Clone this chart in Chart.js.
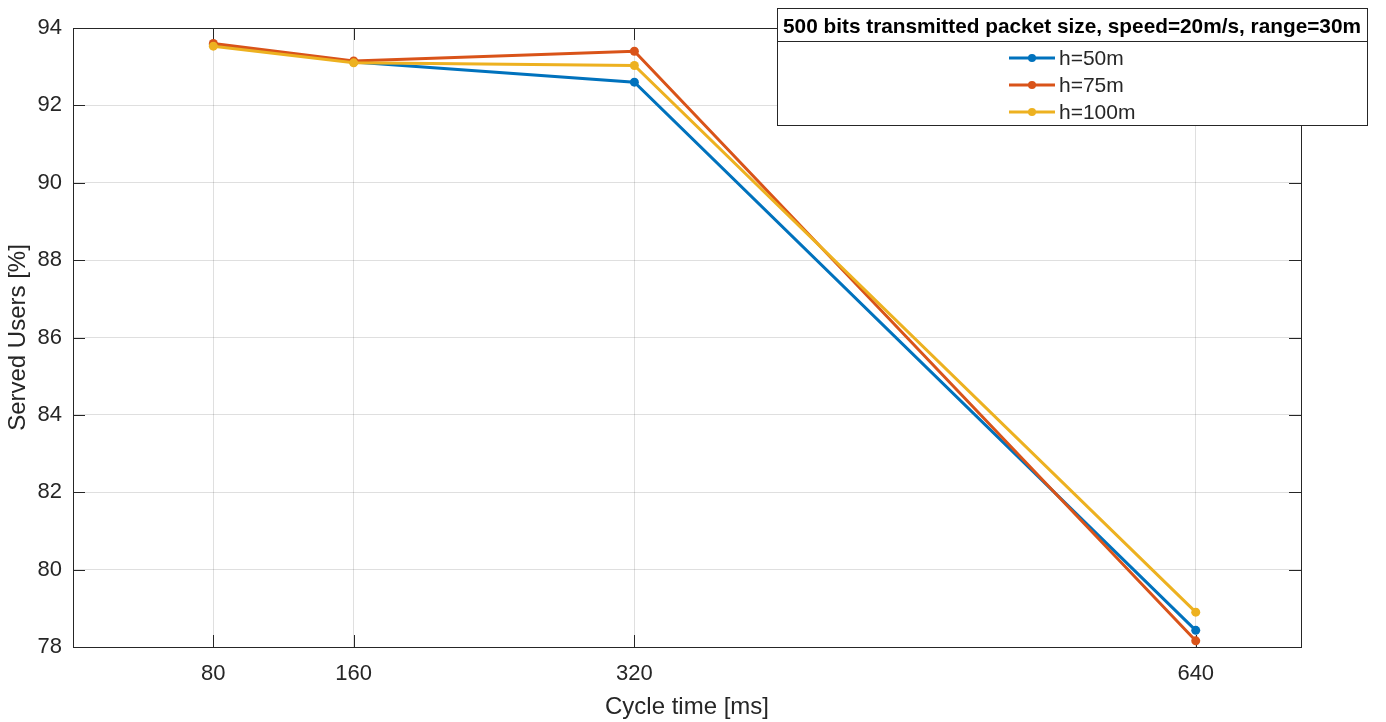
<!DOCTYPE html>
<html>
<head>
<meta charset="utf-8">
<script src="https://cdn.jsdelivr.net/npm/chart.js@4.4.0/dist/chart.umd.min.js"></script>
<style>
    html, body { margin: 0; padding: 0; background: #ffffff; }
    #wrap { width: 1386px; height: 722px; }
</style>
</head>
<body>
<div id="wrap"><canvas id="chart" width="1386" height="722"></canvas></div>
<script>
// Dados
const cycleTimes = [80, 160, 320, 640];
const servedH50 = [93.57, 93.12, 92.60, 78.43];
const servedH75 = [93.60, 93.15, 93.40, 78.16];
const servedH100 = [93.53, 93.10, 93.03, 78.90];
const seriesLabels = ['h=50m', 'h=75m', 'h=100m'];
const xTicks = [80, 160, 320, 640];
const yTicks = [78, 80, 82, 84, 86, 88, 90, 92, 94];
const legendTitle = '500 bits transmitted packet size, speed=20m/s, range=30m';

// Cores padrão do MATLAB
const colors = {
    blue: '#0072BD',
    orange: '#D95319',
    yellow: '#EDB120',
    axis: '#262626',
    grid: 'rgba(38,38,38,0.15)'
};
const fontFamily = "'Liberation Sans', Arial, Helvetica, sans-serif";

function toPoints(values) {
    return cycleTimes.map((x, i) => ({ x: x, y: values[i] }));
}

function makeDataset(label, values, color, order) {
    return {
        label: label,
        data: toPoints(values),
        borderColor: color,
        backgroundColor: color,
        borderWidth: 3,
        pointRadius: 4.5,
        pointHoverRadius: 4.5,
        pointBorderWidth: 0,
        tension: 0,
        clip: false,
        order: order
    };
}

// Caixa dos eixos + marcas de escala para dentro (estilo MATLAB)
const matlabFrame = {
    id: 'matlabFrame',
    beforeDatasetsDraw(chart) {
        const { ctx, chartArea: a, scales } = chart;
        ctx.save();
        ctx.strokeStyle = colors.axis;
        ctx.lineWidth = 1;
        ctx.beginPath();
        xTicks.forEach(v => {
            const px = Math.round(scales.x.getPixelForValue(v)) + 0.5;
            ctx.moveTo(px, a.bottom); ctx.lineTo(px, a.bottom - 12);
            ctx.moveTo(px, a.top); ctx.lineTo(px, a.top + 12);
        });
        yTicks.forEach(v => {
            const py = Math.round(scales.y.getPixelForValue(v)) + 0.5;
            ctx.moveTo(a.left, py); ctx.lineTo(a.left + 12, py);
            ctx.moveTo(a.right, py); ctx.lineTo(a.right - 12, py);
        });
        ctx.stroke();
        ctx.strokeRect(Math.round(a.left) + 0.5, Math.round(a.top) + 0.5,
            Math.round(a.right - a.left), Math.round(a.bottom - a.top));
        ctx.restore();
    },
    afterDraw(chart) {
        const ctx = chart.ctx;
        const box = { left: 777, top: 8, right: 1367, bottom: 125, sep: 41 };
        ctx.save();
        ctx.fillStyle = '#ffffff';
        ctx.fillRect(box.left, box.top, box.right - box.left, box.bottom - box.top);
        ctx.strokeStyle = colors.axis;
        ctx.lineWidth = 1;
        ctx.strokeRect(box.left + 0.5, box.top + 0.5, box.right - box.left, box.bottom - box.top);
        ctx.beginPath();
        ctx.moveTo(box.left, box.sep + 0.5);
        ctx.lineTo(box.right, box.sep + 0.5);
        ctx.stroke();

        ctx.fillStyle = '#000000';
        ctx.font = 'bold 20.8px ' + fontFamily;
        ctx.textAlign = 'center';
        ctx.textBaseline = 'middle';
        ctx.fillText(legendTitle, (box.left + box.right) / 2, 27);

        const rowsY = [58, 85, 112];
        ctx.font = '21px ' + fontFamily;
        ctx.textAlign = 'left';
        chart.data.datasets.forEach((ds, i) => {
            const y = rowsY[i];
            ctx.strokeStyle = ds.borderColor;
            ctx.lineWidth = 3;
            ctx.beginPath();
            ctx.moveTo(1009, y);
            ctx.lineTo(1055, y);
            ctx.stroke();
            ctx.fillStyle = ds.borderColor;
            ctx.beginPath();
            ctx.arc(1032, y, 4, 0, Math.PI * 2);
            ctx.fill();
            ctx.fillStyle = colors.axis;
            ctx.fillText(ds.label, 1059, y + 1);
        });
        ctx.restore();
    }
};

document.addEventListener('DOMContentLoaded', function() {
    const ctx = document.getElementById('chart');
    new Chart(ctx, {
        type: 'line',
        data: {
            datasets: [
                makeDataset(seriesLabels[0], servedH50, colors.blue, 3),
                makeDataset(seriesLabels[1], servedH75, colors.orange, 2),
                makeDataset(seriesLabels[2], servedH100, colors.yellow, 1)
            ]
        },
        options: {
            responsive: false,
            animation: false,
            layout: { padding: { left: 0, top: 28, right: 85, bottom: 0 } },
            plugins: {
                legend: { display: false },
                tooltip: { enabled: false }
            },
            scales: {
                x: {
                    type: 'linear',
                    min: 0,
                    max: 700,
                    afterBuildTicks: axis => { axis.ticks = xTicks.map(v => ({ value: v })); },
                    afterFit: scale => { scale.height = 75; },
                    grid: { color: colors.grid, drawTicks: false },
                    border: { display: false },
                    ticks: {
                        padding: 14,
                        color: colors.axis,
                        font: { family: fontFamily, size: 22 },
                        maxRotation: 0
                    },
                    title: {
                        display: true,
                        text: 'Cycle time [ms]',
                        color: colors.axis,
                        font: { family: fontFamily, size: 24 },
                        padding: { top: 0, bottom: 0 }
                    }
                },
                y: {
                    min: 78,
                    max: 94,
                    afterBuildTicks: axis => { axis.ticks = yTicks.map(v => ({ value: v })); },
                    afterFit: scale => { scale.width = 73; },
                    grid: { color: colors.grid, drawTicks: false },
                    border: { display: false },
                    ticks: {
                        padding: 11,
                        color: colors.axis,
                        font: { family: fontFamily, size: 22 }
                    },
                    title: {
                        display: true,
                        text: 'Served Users [%]',
                        color: colors.axis,
                        font: { family: fontFamily, size: 24 },
                        padding: { top: 4, bottom: 0 }
                    }
                }
            }
        },
        plugins: [matlabFrame]
    });
});
</script>
</body>
</html>
